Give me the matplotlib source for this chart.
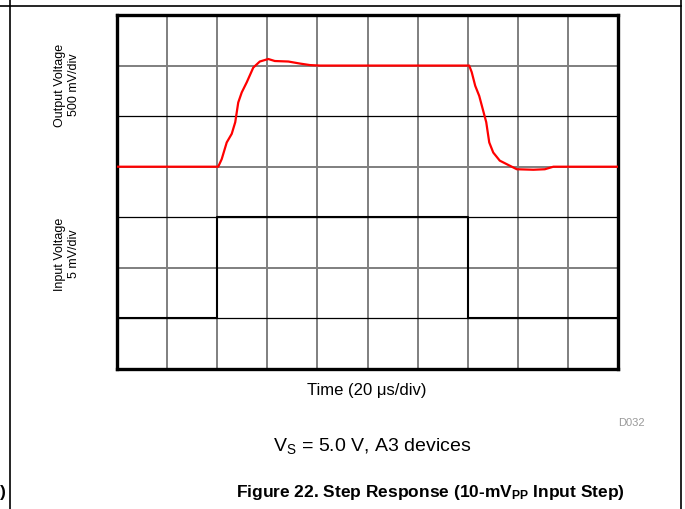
import matplotlib
matplotlib.use('Agg')
import matplotlib.pyplot as plt
from matplotlib.lines import Line2D

plt.rcParams['font.family'] = ['Liberation Sans', 'DejaVu Sans']
plt.rcParams['mathtext.fontset'] = 'custom'
plt.rcParams['mathtext.rm'] = 'Liberation Sans'
plt.rcParams['mathtext.it'] = 'Liberation Sans'
plt.rcParams['mathtext.bf'] = 'Liberation Sans:bold'

# time in divisions (20 us/div), screen position in divisions from bottom
out_t = [0.0, 2.02, 2.09, 2.19, 2.29, 2.36, 2.42, 2.49, 2.59, 2.72, 2.85, 3.02,
         3.15, 3.42, 3.65, 3.85, 4.05, 7.03, 7.08, 7.15, 7.23, 7.30, 7.37, 7.43,
         7.51, 7.64, 7.78, 7.98, 8.31, 8.54, 8.71, 10.0]
out_v = [4.0, 4.0, 4.15, 4.48, 4.65, 4.88, 5.27, 5.47, 5.67, 5.96, 6.08, 6.13,
         6.09, 6.08, 6.04, 6.01, 6.0, 6.0, 5.87, 5.60, 5.40, 5.14, 4.88, 4.48,
         4.28, 4.12, 4.05, 3.95, 3.94, 3.95, 4.0, 4.0]

in_t = [0.0, 2.0, 2.0, 7.0, 7.0, 10.0]
in_v = [1.0, 1.0, 3.0, 3.0, 1.0, 1.0]

W, H = 685, 510
fig = plt.figure(figsize=(W / 100, H / 100), dpi=100)
ax = fig.add_axes([117 / W, (H - 370) / H, 501 / W, 354 / H])
ax.set_xlim(0, 10)
ax.set_ylim(0, 7)

# grid: gray verticals, alternating gray / thin black horizontals
for x in range(1, 10):
    ax.axvline(x, color='#7f7f7f', lw=1.4, zorder=1)
for y in range(1, 7):
    if y % 2 == 1:
        ax.axhline(y, color='black', lw=0.9, zorder=1)
    else:
        ax.axhline(y, color='#7f7f7f', lw=1.4, zorder=1)

ax.plot(in_t, in_v, color='black', lw=1.5, zorder=3)
ax.plot(out_t, out_v, color='#ff0000', lw=1.6, zorder=4)

ax.set_xticks([])
ax.set_yticks([])
for s in ax.spines.values():
    s.set_linewidth(2.4)
    s.set_color('black')

def px(x, y):
    return x / W, 1 - y / H

fig.text(*px(67, 85), 'Output Voltage\n500 mV/div', rotation=90,
         ha='center', va='center', fontsize=9, linespacing=1.3)
fig.text(*px(67, 254), 'Input Voltage\n5 mV/div', rotation=90,
         ha='center', va='center', fontsize=9, linespacing=1.3)
fig.text(*px(367, 391), 'Time (20 μs/div)', ha='center', va='center', fontsize=12)
fig.text(*px(645, 423), 'D032', ha='right', va='center', fontsize=8, color='#999999')
fig.text(*px(372, 446), r'$\mathregular{V_S}$ = 5.0 V, A3 devices',
         ha='center', va='center', fontsize=14)
fig.text(*px(430, 493), r'Figure 22. Step Response (10-mV$_\mathbf{PP}$ Input Step)',
         ha='center', va='center', fontsize=12.5, fontweight='bold')
fig.text(*px(0, 493), ')', ha='left', va='center', fontsize=12.5, fontweight='bold')

# page frame lines
fig.add_artist(Line2D([0, 681 / W], [1 - 7 / H, 1 - 7 / H], color='black', lw=1.2,
                      transform=fig.transFigure))
fig.add_artist(Line2D([10 / W, 10 / W], [0, 1], color='black', lw=1.2,
                      transform=fig.transFigure))
fig.add_artist(Line2D([681 / W, 681 / W], [0, 1], color='black', lw=1.2,
                      transform=fig.transFigure))

fig.savefig('out.png', dpi=100)
